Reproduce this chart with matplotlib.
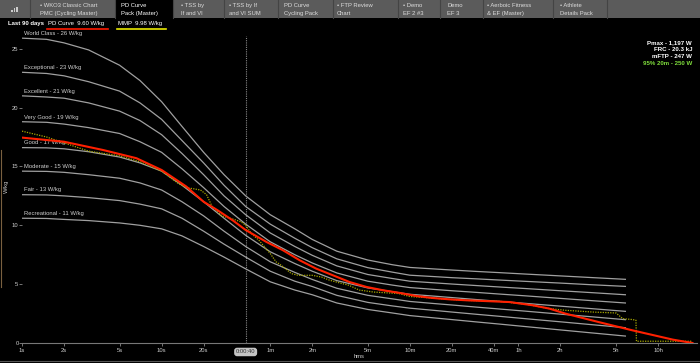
import matplotlib
matplotlib.use("Agg")
import matplotlib.pyplot as plt
from matplotlib.patches import Rectangle
from matplotlib.lines import Line2D

W, H = 700, 363
plt.rcParams["font.family"] = ["Liberation Sans", "DejaVu Sans"]

# power-duration reference curves (W/kg), read at these durations (s)
ref_times = [1, 1.5, 2, 3, 5, 7, 10, 14, 20, 28, 40, 60, 90, 120, 180, 300, 450, 600, 900,
             1200, 1800, 2620, 4000, 7200, 12000, 21000]
ref_names = ["World Class - 26 W/kg", "Exceptional - 23 W/kg", "Excellent - 21 W/kg",
             "Very Good - 19 W/kg", "Good - 17 W/kg", "Moderate - 15 W/kg",
             "Fair - 13 W/kg", "Recreational - 11 W/kg"]
world_class = [25.9, 25.8, 25.5, 24.9, 23.6, 22.3, 20.5, 18.4, 16.2, 14.3, 12.5, 10.9, 9.7,
               8.8, 7.8, 7.05, 6.65, 6.42, 6.29, 6.2, 6.08, 5.98, 5.86, 5.70, 5.56, 5.41]
exceptional = [23.0, 22.9, 22.7, 22.2, 21.4, 20.4, 19.0, 17.2, 15.3, 13.4, 11.6, 10.1, 8.9,
               8.1, 7.15, 6.4, 6.02, 5.76, 5.64, 5.55, 5.45, 5.35, 5.24, 5.09, 4.95, 4.81]
excellent = [21.0, 20.9, 20.8, 20.4, 19.7, 18.9, 17.7, 16.1, 14.3, 12.5, 10.9, 9.35, 8.2,
             7.45, 6.55, 5.82, 5.48, 5.25, 5.11, 5.01, 4.88, 4.76, 4.63, 4.44, 4.28, 4.10]
very_good = [18.8, 18.75, 18.6, 18.3, 17.8, 17.1, 16.2, 14.8, 13.2, 11.6, 10.1, 8.6, 7.5,
             6.8, 5.95, 5.25, 4.92, 4.71, 4.55, 4.44, 4.30, 4.16, 4.01, 3.79, 3.60, 3.40]
good = [16.6, 16.58, 16.5, 16.25, 15.8, 15.3, 14.6, 13.4, 12.0, 10.6, 9.15, 7.75, 6.75, 6.1,
        5.3, 4.68, 4.36, 4.14, 3.98, 3.86, 3.69, 3.54, 3.37, 3.13, 2.92, 2.69]
moderate = [14.6, 14.58, 14.5, 14.3, 14.0, 13.6, 13.0, 12.0, 10.8, 9.5, 8.2, 6.9, 6.0, 5.4,
            4.65, 4.05, 3.75, 3.53, 3.35, 3.23, 3.05, 2.89, 2.71, 2.45, 2.23, 1.98]
fair = [12.6, 12.58, 12.5, 12.35, 12.1, 11.8, 11.4, 10.6, 9.5, 8.4, 7.3, 6.1, 5.25, 4.8,
        4.05, 3.45, 3.15, 2.96, 2.77, 2.63, 2.44, 2.27, 2.07, 1.80, 1.56, 1.30]
recreational = [10.6, 10.58, 10.5, 10.4, 10.2, 10.0, 9.7, 9.1, 8.2, 7.3, 6.3, 5.2, 4.5, 4.1,
                3.4, 2.85, 2.55, 2.33, 2.13, 1.99, 1.79, 1.61, 1.40, 1.11, 0.86, 0.59]
ref_curves = [world_class, exceptional, excellent, very_good, good, moderate, fair, recreational]

# PD curve (red)
pd_times = [1, 2, 3.8, 6.6, 10, 15, 20, 25, 32.5, 40, 56.5, 74, 97.5, 128, 169, 222, 294,
            386, 510, 670, 880, 1150, 1520, 3100, 4580, 6000, 7800, 13500, 23500, 45800, 63500]
pd_wkg = [17.45, 17.1, 16.4, 15.7, 14.7, 13.3, 12.0, 11.3, 10.4, 9.6, 8.58, 7.88, 7.03, 6.32,
          5.75, 5.18, 4.76, 4.48, 4.25, 3.99, 3.82, 3.71, 3.63, 3.48, 3.2, 2.92, 2.5, 1.78,
          1.08, 0.29, 0.0]

# mean maximal power (yellow dotted)
mmp_times = [1, 1.5, 2, 3, 5, 7, 10, 13, 15, 17, 19, 21, 23, 27, 33, 37, 40, 44, 50, 60, 66,
             72, 85, 95, 120, 140, 160, 220, 260, 330, 500, 600, 800, 1150, 1520, 2620, 4100,
             6000, 7800, 12300, 18000, 20100, 23700, 25000, 25200, 63500]
mmp_wkg = [18.0, 17.5, 17.0, 16.3, 15.9, 15.4, 14.6, 13.6, 13.2, 13.1, 13.0, 12.6, 11.6, 10.8,
           10.5, 10.3, 10.0, 9.3, 8.7, 7.6, 6.9, 6.6, 5.9, 5.75, 5.75, 5.6, 5.33, 4.9, 4.5,
           4.33, 4.2, 3.95, 3.85, 3.71, 3.62, 3.54, 3.29, 2.92, 2.78, 2.63, 2.55, 2.07, 1.99,
           1.93, 0.15, 0.15]

xtick_pos = [1, 2, 5, 10, 20, 60, 120, 300, 600, 1200, 2400, 3600, 7200, 18000, 36000]
xtick_lab = ["1s", "2s", "5s", "10s", "20s", "1m", "2m", "5m", "10m", "20m", "40m", "1h",
             "2h", "5h", "10h"]
yticks = [0, 5, 10, 15, 20, 25]

tab_edges = [30, 115, 173, 224, 278, 333, 398, 440, 483, 553, 607]
tab_text_x = [40, 121, 181, 229, 284, 337, 403, 447, 487, 560]
tab_labels = [("• WKO3 Classic Chart", "PMC (Cycling Master)"), ("PD Curve", "Pack (Master)"),
              ("• TSS by", "If and VI"), ("• TSS by If", "and VI SUM"),
              ("PD Curve", "Cycling Pack"), ("• FTP Review", "Chart"), ("• Demo", "EF 2 #3"),
              ("Demo", "EF 3"), ("• Aerboic Fitness", "& EF (Master)"),
              ("• Athlete", "Details Pack")]
stats = ["Pmax - 1,197 W", "FRC - 20.3 kJ", "mFTP - 247 W", "95% 20m - 250 W"]


def fx(x):
    return x / W


def fy(y):
    return 1 - y / H


fig = plt.figure(figsize=(7, 3.63), dpi=100, facecolor="black")

# tab bar
fig.patches.append(Rectangle((0, fy(17.5)), 1, 17.5 / H, transform=fig.transFigure,
                             fc="#5b5b5b", ec="none", zorder=0))
fig.patches.append(Rectangle((fx(115), fy(17.5)), 58 / W, 17.5 / H, transform=fig.transFigure,
                             fc="black", ec="none", zorder=1))
for e in tab_edges:
    fig.lines.append(Line2D([fx(e), fx(e)], [fy(17.5), 1], transform=fig.transFigure,
                            color="#444444", lw=0.8))
for bx, bh in zip([11, 13.5, 16], [2, 3.5, 5]):
    fig.patches.append(Rectangle((fx(bx), fy(12)), 1.5 / W, bh / H, transform=fig.transFigure,
                                 fc="#cccccc", ec="none"))
for i, (l1, l2) in enumerate(tab_labels):
    col = "white" if i == 1 else "#dddddd"
    fig.text(fx(tab_text_x[i]), fy(5.8), l1, color=col, fontsize=4.2, va="center")
    fig.text(fx(tab_text_x[i]), fy(13.2), l2, color=col, fontsize=4.2, va="center")

# legend row
fig.text(fx(8), fy(24), "Last 90 days", color="white", fontsize=4.3, va="center",
         fontweight="bold")
fig.text(fx(48), fy(24), "PD Curve  9.60 W/kg", color="white", fontsize=4.3, va="center")
fig.text(fx(118), fy(24), "MMP  9.98 W/kg", color="white", fontsize=4.3, va="center")
fig.lines.append(Line2D([fx(47), fx(108)], [fy(28.5)] * 2, transform=fig.transFigure,
                        color="#ff1a00", lw=1.2))
fig.lines.append(Line2D([fx(117), fx(166)], [fy(28.5)] * 2, transform=fig.transFigure,
                        color="#e8e800", lw=1.2))

# frame details
fig.lines.append(Line2D([0, 1], [fy(361)] * 2, transform=fig.transFigure, color="#555555",
                        lw=0.8))
fig.lines.append(Line2D([fx(0.6)] * 2, [fy(150), fy(287)], transform=fig.transFigure,
                        color="#7a6040", lw=0.8))

ax = fig.add_axes([fx(22), fy(343), 675 / W, 313 / H])
ax.set_facecolor("black")
ax.set_xscale("log")
ax.set_xlim(1, 10 ** (675 / 139.6))
ax.set_ylim(0, 313 / 11.77)

for name, vals in zip(ref_names, ref_curves):
    ax.plot(ref_times, vals, color="#a0a0a0", lw=0.9, zorder=2)
    ax.annotate(name, (1.03, vals[0]), xytext=(0, 1.6), textcoords="offset points",
                color="#d0d0d0", fontsize=4.2, va="bottom", ha="left")

ax.plot(mmp_times, mmp_wkg, color="#a8a800", lw=0.9, ls=(0, (1, 1)), zorder=3)
ax.plot(pd_times, pd_wkg, color="#ff2000", lw=1.5, zorder=4)

ax.axvline(40, ymin=0, ymax=26.1 / (313 / 11.77), color="#888888", lw=0.8,
           ls=(0, (1, 1)), zorder=1)
ax.text(40, -0.55, "0:00:40", ha="center", va="top", fontsize=4.2, color="#333333",
        bbox=dict(boxstyle="round,pad=0.3,rounding_size=0.5", fc="#c4c4c4", ec="none"))

for s in ["top", "right", "left"]:
    ax.spines[s].set_visible(False)
ax.spines["bottom"].set_color("#777777")
ax.spines["bottom"].set_linewidth(0.8)

ax.set_xticks(xtick_pos)
ax.set_xticklabels(xtick_lab)
ax.minorticks_off()
ax.set_yticks(yticks)
ax.tick_params(axis="x", colors="#888888", labelcolor="#cccccc", labelsize=4.2, length=2,
               width=0.6, pad=1.5)
ax.tick_params(axis="y", colors="#888888", labelcolor="#cccccc", labelsize=4.2, length=2,
               width=0.6, pad=0.5)
ax.set_xlabel("hms", color="#cccccc", fontsize=4.2, labelpad=0.5)
ax.set_ylabel("W/kg", color="#cccccc", fontsize=4.2, labelpad=2)

for i, s in enumerate(stats):
    col = "#7fdc3c" if i == 3 else "white"
    fig.text(fx(692), fy(42.3 + i * 7), s, color=col, fontsize=4.4, ha="right", va="center",
             fontweight="bold")

fig.savefig("out.png", dpi=100, facecolor="black")
